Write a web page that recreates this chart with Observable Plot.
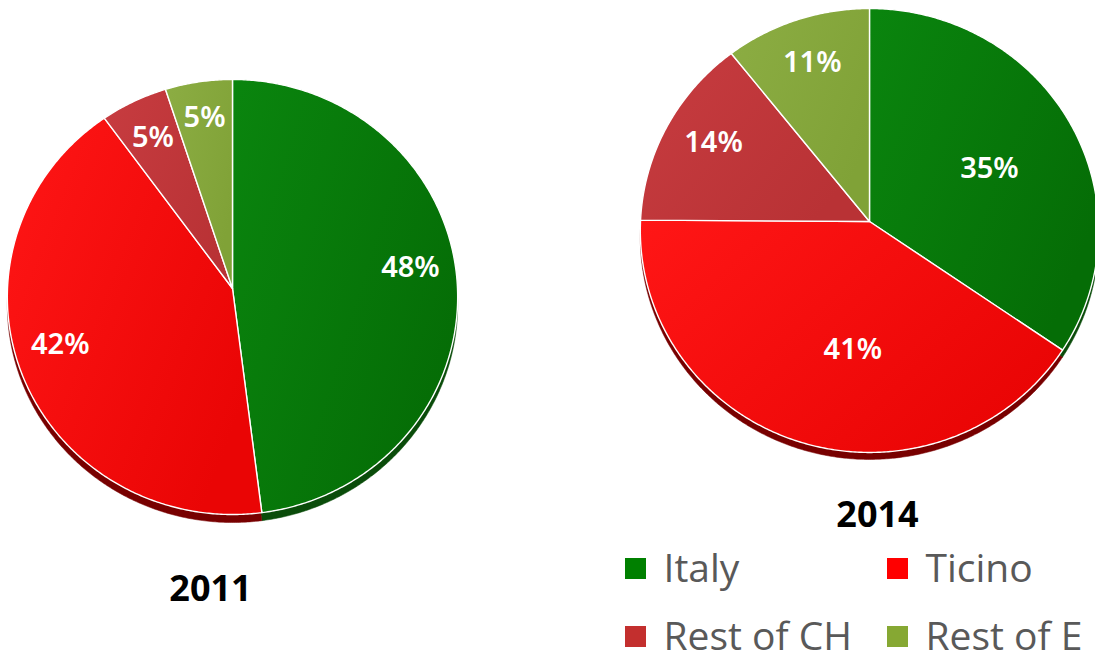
<!DOCTYPE html>
<html>
<head>
<meta charset="utf-8">
<script src="https://cdn.jsdelivr.net/npm/d3@7"></script>
<script src="https://cdn.jsdelivr.net/npm/@observablehq/plot@0.6"></script>
<style>
  html, body { margin: 0; padding: 0; background: #ffffff; }
  #chart { width: 1095px; height: 660px; overflow: hidden; }
</style>
</head>
<body>
<div id="chart"></div>
<script>
// ---------- data ----------
const categories = ["Italy", "Ticino", "Rest of CH", "Rest of E"];
const years = ["2011", "2014"];
const values2011 = [48, 42, 5, 5];
const values2014 = [34.6, 40.5, 14.2, 10.7];
const labels2011 = ["48%", "42%", "5%", "5%"];
const labels2014 = ["35%", "41%", "14%", "11%"];
const faceLight = ["#0a850e", "#ff1616", "#c73c40", "#8cad43"];
const faceDark = ["#056d06", "#ea0505", "#b93235", "#80a237"];
const sideColors = ["#0a4c0a", "#780000", "#6e1a1c", "#4d6222"];
const legendColors = ["#008000", "#ff0000", "#c32f2e", "#86a833"];

// ---------- layout ----------
const W = 1095, H = 660;
const pies = [
  {values: values2011, labels: labels2011, year: years[0], cx: 232, cy: 288, ax: 225, ay: 217.2, k: 0.039, depth: 8,
   labelR: [0.8, 0.8, 0.8, 0.82], labelShift: [-0.06, 0.05, 0, 0], yearX: 210, yearY: 600},
  {values: values2014, labels: labels2014, year: years[1], cx: 869, cy: 221, ax: 229, ay: 221.6, k: 0.0405, depth: 7,
   labelR: [0.58, 0.57, 0.78, 0.78], labelShift: [0.06, -0.18, 0.03, 0], yearX: 877, yearY: 526}
];

function project(p, theta, f) {
  const u = Math.sin(theta) * f, v = -Math.cos(theta) * f;
  const d = 1 - p.k * v;
  return [p.cx + p.ax * u / d, p.cy + p.ay * v / d];
}

const slices = [];
const labelRows = [];
pies.forEach((p, pi) => {
  const total = d3.sum(p.values);
  let acc = 0;
  p.values.forEach((v, ci) => {
    const a0 = acc / total * 2 * Math.PI;
    acc += v;
    const a1 = acc / total * 2 * Math.PI;
    const n = Math.max(4, Math.ceil((a1 - a0) / (Math.PI / 360)));
    const pts = [{x: p.cx, y: p.cy}];
    for (let i = 0; i <= n; i++) {
      const [x, y] = project(p, a0 + (a1 - a0) * i / n, 1);
      pts.push({x, y});
    }
    pts.push({x: p.cx, y: p.cy});
    slices.push({pi, ci, pts, depth: p.depth});
    const [lx, ly] = project(p, (a0 + a1) / 2 + p.labelShift[ci], p.labelR[ci]);
    labelRows.push({x: lx, y: ly, text: p.labels[ci]});
  });
});

const yearRows = pies.map(p => ({x: p.yearX, y: p.yearY, text: p.year}));

// legend layout: 2 columns x 2 rows
const legendRows = categories.map((c, i) => {
  const col = i % 2, row = Math.floor(i / 2);
  const sx = 625 + col * 262, sy = 558 + row * 68;
  return {cat: c, color: legendColors[i], x1: sx, x2: sx + 21, y1: sy, y2: sy + 21, tx: sx + 38, ty: sy + 23};
});

function defsMark() {
  const defs = d3.create("svg:defs");
  categories.forEach((c, i) => {
    const g = defs.append("linearGradient").attr("id", "grad" + i)
      .attr("x1", "0").attr("y1", "0").attr("x2", "1").attr("y2", "0.6");
    g.append("stop").attr("offset", "0%").attr("stop-color", faceLight[i]);
    g.append("stop").attr("offset", "100%").attr("stop-color", faceDark[i]);
  });
  return defs.node();
}

const marks = [defsMark];
slices.forEach(s => {
  marks.push(Plot.line(s.pts, {x: "x", y: d => d.y + s.depth, fill: sideColors[s.ci], stroke: sideColors[s.ci], strokeWidth: 0.5, curve: "linear"}));
});
slices.forEach(s => {
  marks.push(Plot.line(s.pts, {x: "x", y: "y", fill: `url(#grad${s.ci})`, stroke: "#ffffff", strokeWidth: 1.4, strokeLinejoin: "round", curve: "linear"}));
});
marks.push(Plot.text(labelRows, {x: "x", y: "y", text: "text", fill: "#ffffff", fontSize: 29, fontWeight: 600,
  fontFamily: "'Noto Sans', 'Open Sans', sans-serif", textAnchor: "middle", lineAnchor: "middle"}));
marks.push(Plot.text(yearRows, {x: "x", y: "y", text: "text", fill: "#000000", fontSize: 36, fontWeight: 700,
  fontFamily: "'Noto Sans', 'Open Sans', sans-serif", textAnchor: "middle", lineAnchor: "bottom"}));
marks.push(Plot.rect(legendRows, {x1: "x1", x2: "x2", y1: "y1", y2: "y2", fill: "color"}));
marks.push(Plot.text(legendRows, {x: "tx", y: "ty", text: "cat", fill: "#595959", fontSize: 39, fontWeight: 400,
  fontFamily: "'Open Sans', sans-serif", textAnchor: "start", lineAnchor: "bottom"}));

const chart = Plot.plot({
  width: W, height: H,
  margin: 0,
  x: {domain: [0, W], range: [0, W], axis: null},
  y: {domain: [0, H], range: [0, H], axis: null},
  style: {background: "#ffffff", overflow: "hidden"},
  marks
});
document.getElementById("chart").appendChild(chart);
</script>
</body>
</html>
